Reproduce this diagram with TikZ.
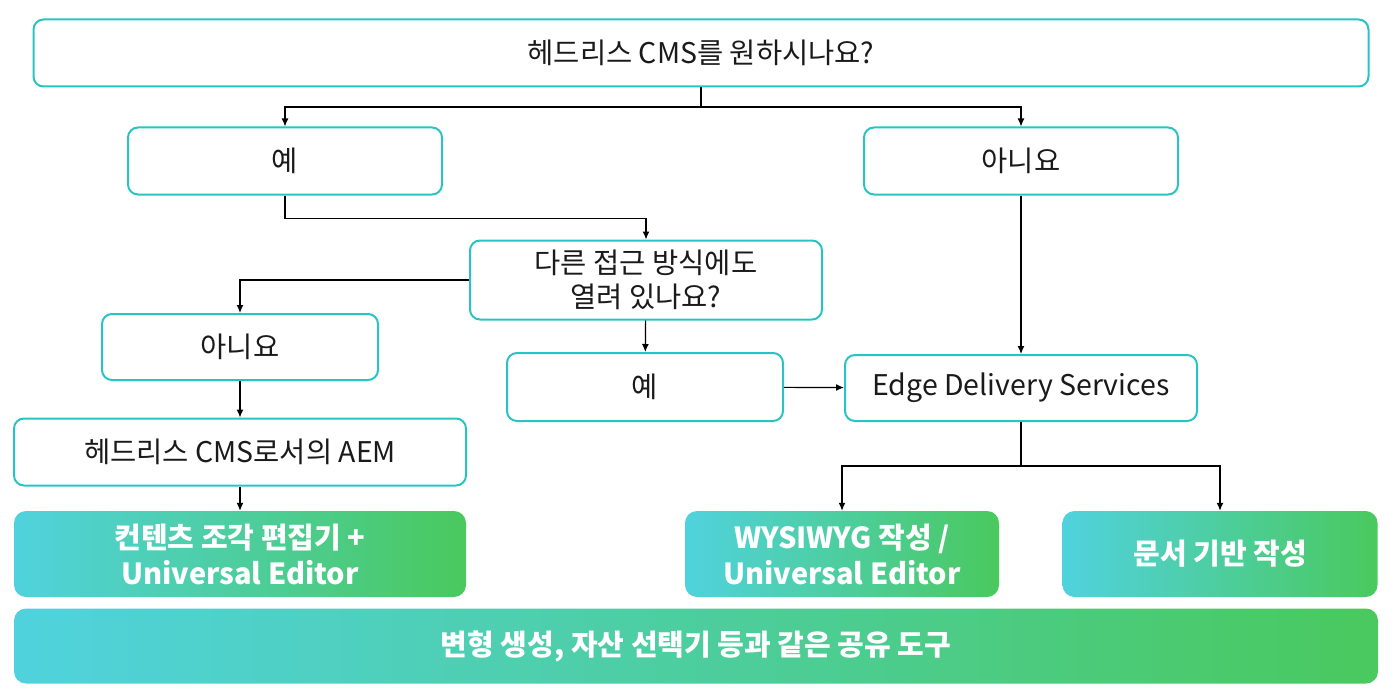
\documentclass[tikz,border=0pt]{standalone}
\usepackage{fontspec}
\setmainfont{Noto Sans CJK KR}
\usetikzlibrary{arrows.meta}

\definecolor{boxline}{RGB}{40,196,196}
\definecolor{gradcyan}{RGB}{80,210,222}
\definecolor{gradgreen}{RGB}{74,201,94}
\definecolor{ink}{RGB}{26,26,26}

\tikzstyle{box} = [draw=boxline,line width=2pt,rounded corners=10pt,fill=white,text=ink,align=center,font=\fontsize{28.5}{34}\selectfont]
\tikzstyle{result} = [rounded corners=12pt,left color=gradcyan,right color=gradgreen,text=white,align=center,font=\fontsize{29}{36}\selectfont\bfseries]

\begin{document}
\begin{tikzpicture}[x=1pt,y=-1pt]
	\useasboundingbox (0,0) rectangle (1395,690);
	\node[box,minimum width=1335pt,minimum height=67pt] (want) at (701,53) {헤드리스 CMS를 원하시나요?};
	\node[box,minimum width=314pt,minimum height=67pt] (yes1) at (285,161) {예};
	\node[box,minimum width=314pt,minimum height=67pt] (no1) at (1021,161) {아니요};
	\node[box,minimum width=352pt,minimum height=79pt] (open) at (646,280) {다른 접근 방식에도\\열려 있나요?};
	\node[box,minimum width=276pt,minimum height=66pt] (no2) at (240,347) {아니요};
	\node[box,minimum width=276pt,minimum height=68pt] (yes2) at (645,387) {예};
	\node[box,minimum width=352pt,minimum height=66pt] (eds) at (1021,388) {Edge Delivery Services};
	\node[box,minimum width=452pt,minimum height=67pt] (aem) at (240,452) {헤드리스 CMS로서의 AEM};
	\node[result,minimum width=452pt,minimum height=86pt] (frag) at (240,554) {컨텐츠 조각 편집기 +\\Universal Editor};
	\node[result,minimum width=314pt,minimum height=86pt] (wys) at (842,554) {WYSIWYG 작성 /\\Universal Editor};
	\node[result,minimum width=315pt,minimum height=86pt] (doc) at (1220,554) {문서 기반 작성};
	\node[result,minimum width=1364pt,minimum height=75pt] (tools) at (696,646) {변형 생성, 자산 선택기 등과 같은 공유 도구};

	\coordinate (split1) at (701,107);
	\coordinate (split2) at (1021,466);

	\draw[->,>={Latex[length=8pt,width=7pt]},line width=1.2pt] (want.south) -- (split1) -| (yes1);
	\draw[->,>={Latex[length=8pt,width=7pt]},line width=1.2pt] (split1) -| (no1);
	\draw[->,>={Latex[length=8pt,width=7pt]},line width=1.2pt] (yes1.south) -- ++(0,23) -| (open);
	\draw[->,>={Latex[length=8pt,width=7pt]},line width=1.2pt] (open.west) -| (no2);
	\draw[->,>={Latex[length=8pt,width=7pt]},line width=1.2pt] (open) -- (yes2);
	\draw[->,>={Latex[length=8pt,width=7pt]},line width=1.2pt] (yes2) -- (eds);
	\draw[->,>={Latex[length=8pt,width=7pt]},line width=1.2pt] (no1) -- (eds);
	\draw[->,>={Latex[length=8pt,width=7pt]},line width=1.2pt] (no2) -- (aem);
	\draw[->,>={Latex[length=8pt,width=7pt]},line width=1.2pt] (aem) -- (frag);
	\draw[->,>={Latex[length=8pt,width=7pt]},line width=1.2pt] (eds.south) -- (split2) -| (wys);
	\draw[->,>={Latex[length=8pt,width=7pt]},line width=1.2pt] (split2) -| (doc);
\end{tikzpicture}
\end{document}
